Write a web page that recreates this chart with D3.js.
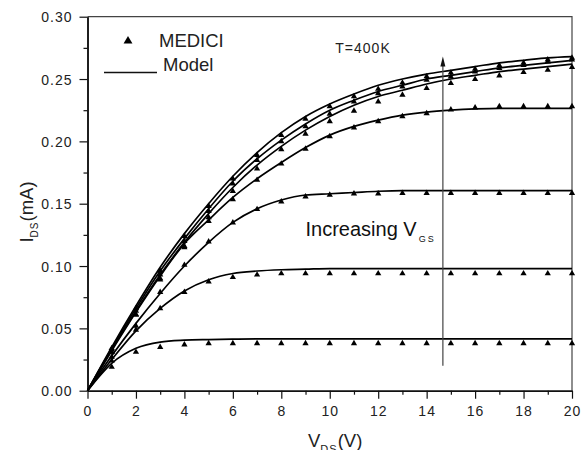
<!DOCTYPE html>
<html>
<head>
<meta charset="utf-8">
<script src="https://cdn.jsdelivr.net/npm/d3@7"></script>
<style>
  html, body { margin: 0; padding: 0; background: #fff; }
  svg { display: block; font-family: "Liberation Sans", Arial, sans-serif; }
</style>
</head>
<body>
<svg id="chart" width="582" height="450"></svg>
<script>
// Drain voltage samples (V)
const vds = [0,1,2,3,4,5,6,7,8,9,10,11,12,13,14,15,16,17,18,19,20];
const vdsSim = [1,2,3,4,5,6,7,8,9,10,11,12,13,14,15,16,17,18,19,20];

// Model drain current (mA), one curve per gate bias, lowest to highest
const model1 = [0,.022,.034,.039,.0405,.041,.0413,.0415,.0415,.0415,.0415,.0415,.0415,.0415,.0415,.0415,.0415,.0415,.0415,.0415,.0415];
const model2 = [0,.025,.048,.066,.080,.089,.094,.096,.097,.0975,.098,.098,.098,.098,.098,.098,.098,.098,.098,.098,.098];
const model3 = [0,.028,.054,.078,.100,.119,.135,.146,.153,.157,.158,.159,.160,.1605,.1605,.1605,.1605,.1605,.1605,.1605,.1605];
const model4 = [0,.032,.063,.092,.118,.137,.155,.170,.183,.195,.205,.212,.217,.221,.2235,.225,.226,.2265,.2265,.2265,.2265];
const model5 = [0,.033,.064,.093,.119,.142,.163,.181,.196,.209,.220,.229,.236,.241,.246,.250,.253,.256,.258,.260,.262];
const model6 = [0,.034,.066,.096,.122,.146,.168,.186,.201,.214,.225,.233,.240,.245,.250,.253,.256,.259,.261,.263,.265];
const model7 = [0,.035,.068,.099,.126,.150,.172,.191,.207,.220,.230,.238,.245,.250,.254,.257,.260,.263,.265,.267,.268];

// MEDICI simulated drain current (mA) at integer drain voltages 1..20 V
const medici1 = [.019,.031,.035,.037,.038,.038,.038,.038,.038,.038,.038,.038,.038,.038,.038,.038,.038,.038,.038,.038];
const medici2 = [.024,.0487,.066,.079,.0874,.091,.093,.094,.094,.094,.094,.094,.094,.094,.094,.094,.094,.094,.094,.094];
const medici3 = [.027,.052,.079,.1008,.1195,.1348,.1455,.1516,.1556,.157,.158,.158,.1585,.1585,.1585,.1585,.1585,.1585,.1585,.1585];
const medici4 = [.031,.061,.090,.116,.136,.1535,.169,.182,.194,.204,.211,.216,.220,.2225,.2255,.227,.228,.228,.228,.228];
const medici5 = [.031,.061,.089,.115,.139,.160,.178,.1935,.206,.216,.2245,.2318,.2372,.2426,.2466,.2498,.2527,.2554,.2572,.2595];
const medici6 = [.033,.064,.093,.120,.144,.166,.185,.200,.212,.222,.2318,.2385,.2439,.2492,.2519,.2559,.2586,.2612,.264,.2655];
const medici7 = [.034,.066,.096,.124,.148,.170,.189,.205,.218,.228,.236,.242,.247,.252,.255,.258,.261,.263,.2655,.267];

const xTicks = [0,2,4,6,8,10,12,14,16,18,20];
const yTicks = [0.00,0.05,0.10,0.15,0.20,0.25,0.30];

// "Increasing V_GS" arrow: drain voltage and current span
const arrowVds = 14.67;
const arrowFrom = 0.020;
const arrowTo = 0.268;

const modelCurves = [model1, model2, model3, model4, model5, model6, model7];
const mediciSets = [medici1, medici2, medici3, medici4, medici5, medici6, medici7];

const svg = d3.select("#chart");
const plotLeft = 87.5, plotRight = 572, plotTop = 16.7, plotBottom = 390.7;

const x = d3.scaleLinear().domain([0, 20]).range([plotLeft, plotRight]);
const y = d3.scaleLinear().domain([0, 0.30]).range([plotBottom, plotTop]);

const ink = "#111";
const tickFont = 14;

// Frame: top and right edges
svg.append("path")
  .attr("d", `M${plotLeft},${plotTop}H${plotRight}V${plotBottom}`)
  .attr("fill", "none").attr("stroke", "#444").attr("stroke-width", 1.2);

// Bottom axis
const xAxis = svg.append("g").attr("transform", `translate(0,${plotBottom})`)
  .call(d3.axisBottom(x).tickValues(xTicks).tickSize(8).tickSizeOuter(0).tickFormat(d3.format("d")));
const xMinor = svg.append("g").attr("transform", `translate(0,${plotBottom})`)
  .call(d3.axisBottom(x).tickValues(d3.range(1, 20, 2)).tickSize(4).tickSizeOuter(0).tickFormat(""));

// Left axis
const yAxis = svg.append("g").attr("transform", `translate(${plotLeft},0)`)
  .call(d3.axisLeft(y).tickValues(yTicks).tickSize(8).tickSizeOuter(0).tickFormat(d3.format(".2f")));
const yMinor = svg.append("g").attr("transform", `translate(${plotLeft},0)`)
  .call(d3.axisLeft(y).tickValues(d3.range(0.025, 0.30, 0.05)).tickSize(4).tickSizeOuter(0).tickFormat(""));

[xAxis, xMinor, yAxis, yMinor].forEach(g => {
  g.select(".domain").attr("stroke", ink).attr("stroke-width", 1.5);
  g.selectAll(".tick line").attr("stroke", ink).attr("stroke-width", 1.2);
  g.selectAll(".tick text")
    .attr("fill", "#222")
    .attr("font-size", tickFont)
    .attr("letter-spacing", "1px")
    .attr("font-family", "'Liberation Sans', Arial, sans-serif");
});
xAxis.selectAll(".tick text").attr("dy", null).attr("y", 25);
yAxis.selectAll(".tick text").attr("x", -15).attr("dy", "0.36em");

// Model curves
const line = d3.line()
  .x((d, i) => x(vds[i]))
  .y(d => y(d))
  .curve(d3.curveMonotoneX);

svg.append("g").selectAll("path")
  .data(modelCurves)
  .join("path")
  .attr("d", line)
  .attr("fill", "none")
  .attr("stroke", "#000")
  .attr("stroke-width", 1.7);

// MEDICI points
const tri = d3.symbol().type(d3.symbolTriangle).size(17);
const pts = [];
mediciSets.forEach(s => s.forEach((v, i) => pts.push([vdsSim[i], v])));
svg.append("g").selectAll("path")
  .data(pts)
  .join("path")
  .attr("d", tri)
  .attr("transform", d => `translate(${x(d[0])},${y(d[1])})`)
  .attr("fill", "#000");

// Increasing V_GS arrow
svg.append("line")
  .attr("x1", x(arrowVds)).attr("x2", x(arrowVds))
  .attr("y1", y(arrowFrom)).attr("y2", y(arrowTo) + 6)
  .attr("stroke", "#444").attr("stroke-width", 1.2);
svg.append("path")
  .attr("d", `M${x(arrowVds)},${y(arrowTo)}l-2.5,10h5z`)
  .attr("fill", "#111");

// Annotations
const ann = svg.append("text")
  .attr("x", x(9.0)).attr("y", y(0.124))
  .attr("font-size", 20).attr("fill", "#111");
ann.append("tspan").text("Increasing V");
ann.append("tspan").attr("font-size", 9).attr("dy", 6).attr("dx", 2)
  .attr("letter-spacing", "2px").text("GS");

svg.append("text")
  .attr("x", x(10.23)).attr("y", y(0.2707))
  .attr("font-size", 14).attr("letter-spacing", "1px").attr("fill", "#222")
  .text("T=400K");

// Legend
svg.append("path")
  .attr("d", d3.symbol().type(d3.symbolTriangle).size(34))
  .attr("transform", "translate(128,41)")
  .attr("fill", "#000");
svg.append("text").attr("x", 159).attr("y", 46.7)
  .attr("font-size", 18.5).attr("fill", "#222").text("MEDICI");
svg.append("line")
  .attr("x1", 104).attr("x2", 157).attr("y1", 72.5).attr("y2", 72.5)
  .attr("stroke", "#111").attr("stroke-width", 1.3);
svg.append("text").attr("x", 163).attr("y", 70.7)
  .attr("font-size", 18.5).attr("fill", "#222").text("Model");

// Axis titles
const xt = svg.append("text")
  .attr("x", 308).attr("y", 447)
  .attr("font-size", 18.5).attr("fill", "#222");
xt.append("tspan").text("V");
xt.append("tspan").attr("font-size", 11).attr("dy", 6).attr("letter-spacing", "1px").text("DS");
xt.append("tspan").attr("dy", -6).text("(V)");

const yt = svg.append("text")
  .attr("transform", "translate(33,212) rotate(-90)")
  .attr("text-anchor", "middle")
  .attr("font-size", 18.5).attr("fill", "#222");
yt.append("tspan").text("I");
yt.append("tspan").attr("font-size", 10).attr("dy", 5).attr("letter-spacing", "1px").text("DS");
yt.append("tspan").attr("dy", -5).text("(mA)");
</script>
</body>
</html>
